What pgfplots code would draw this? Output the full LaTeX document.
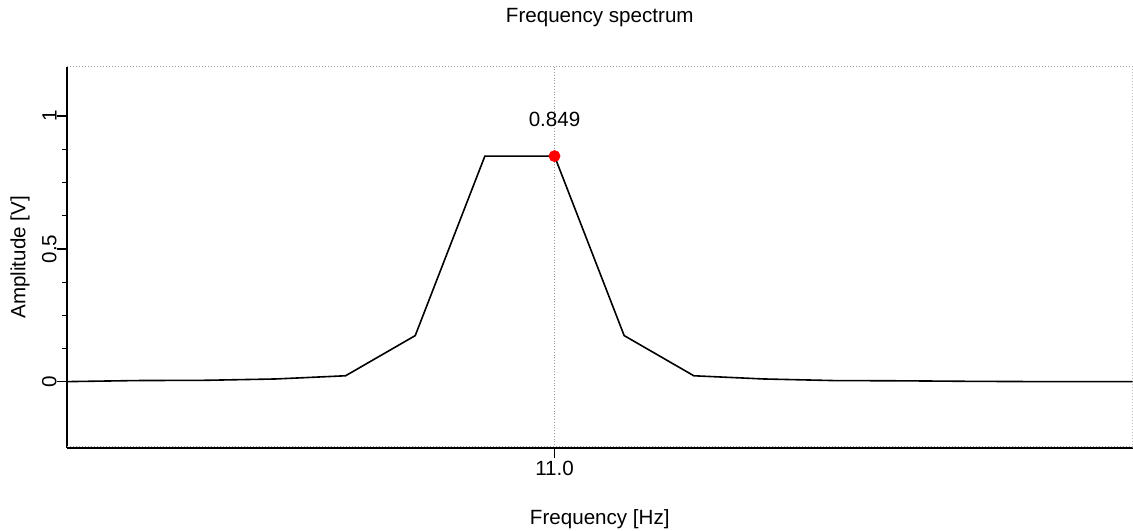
\documentclass[border=0pt]{standalone}
\usepackage{fontspec}
\setmainfont{Liberation Sans}
\usepackage{pgfplots}
\pgfplotsset{compat=1.18}

% Amplitude spectrum, bins every 0.1 Hz
\pgfplotstableread{
f      a
10.3   0.001
10.4   0.005
10.5   0.006
10.6   0.011
10.7   0.023
10.8   0.174
10.9   0.849
11.0   0.849
11.1   0.174
11.2   0.023
11.3   0.011
11.4   0.005
11.5   0.004
11.6   0.002
11.7   0.001
11.8   0.001
11.9   0.001
}\spectrum

\begin{document}
\begin{tikzpicture}[font=\fontsize{10.3}{12}\selectfont]
\useasboundingbox (-33.5pt,-41.5pt) rectangle (533.2pt,224pt);
\begin{axis}[
  at={(0,0)}, anchor=south west,
  scale only axis, width=533pt, height=190.5pt,
  xmin=10.3, xmax=11.83, ymin=-0.248, ymax=1.184,
  axis x line*=bottom, axis y line*=left,
  x axis line style={black, line width=0.8pt},
  y axis line style={black, line width=1pt},
  xtick={11.0}, xticklabels={11.0},
  ytick={0,0.5,1}, yticklabels={0,0.5,1},
  minor y tick num=3,
  tick align=outside,
  major tick length=5pt, minor tick length=2.5pt,
  every tick/.style={black, line width=0.6pt},
  xmajorgrids,
  major grid style={gray!80, densely dotted, line width=0.5pt},
  /pgf/number format/assume math mode=true,
  xticklabel style={yshift=-1.2pt, anchor=north, inner sep=0pt},
  yticklabel style={rotate=90, anchor=south, inner sep=0pt},
  title={Frequency spectrum},
  xlabel={Frequency [Hz]},
  ylabel={Amplitude [V]},
  every axis title/.style={at={(axis description cs:0.5,1.12861)}, anchor=center, inner sep=0pt},
  every axis x label/.style={at={(axis description cs:0.5,-0.18635)}, anchor=center, inner sep=0pt},
  every axis y label/.style={at={(axis description cs:-0.04409,0.5)}, rotate=90, anchor=center, inner sep=0pt},
  clip=true,
]
  % dotted frame on the top and right sides
  \draw[gray!80, densely dotted, line width=0.5pt]
    (rel axis cs:0,1) -- (rel axis cs:1,1) -- (rel axis cs:1,0);
  \draw[gray!80, densely dotted, line width=0.5pt]
    (rel axis cs:0,0.004) -- (rel axis cs:1,0.004);

  \addplot[black, line width=0.8pt, mark=none] table[x=f, y=a] {\spectrum};

  % peak marker with its value
  \addplot[only marks, mark=*, mark size=2.75pt,
    mark options={draw=red, fill=red},
    point meta=y,
    nodes near coords={\pgfmathprintnumber[fixed, precision=3, assume math mode=true]{\pgfplotspointmeta}},
    every node near coord/.append style={text=black, anchor=center, yshift=18.25pt, inner sep=0pt},
  ] coordinates {(11.0,0.849)};
\end{axis}
\end{tikzpicture}
\end{document}
